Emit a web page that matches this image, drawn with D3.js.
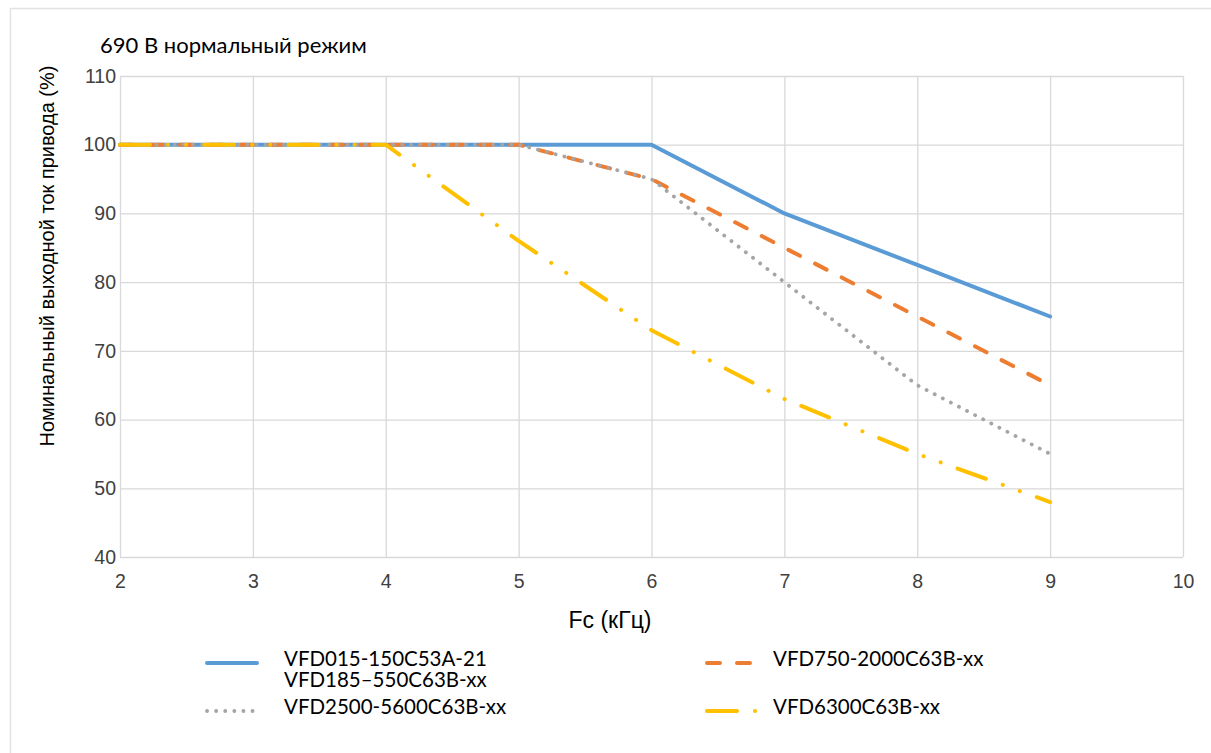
<!DOCTYPE html>
<html>
<head>
<meta charset="utf-8">
<script src="https://cdn.jsdelivr.net/npm/d3@7"></script>
<style>
  html, body { margin: 0; padding: 0; background: #fff; }
  svg { display: block; }
</style>
</head>
<body>
<svg id="chart" width="1211" height="753"></svg>
<script>
// Switching frequency, kHz
const freqs = [2, 3, 4, 5, 6, 7, 8, 9];
// Rated output current of the drive, % — one array per model group
const seriesA = [100, 100, 100, 100, 100, 90, 82.5, 75];
const seriesB = [100, 100, 100, 100, 95, 85, 75, 65];
const seriesC = [100, 100, 100, 100, 95, 80, 65, 55];
const seriesD = [100, 100, 100, 86, 73, 63, 55, 48];

const seriesNames = [
  ["VFD015-150C53A-21", "VFD185\u2013550C63B-xx"],
  ["VFD750-2000C63B-xx"],
  ["VFD2500-5600C63B-xx"],
  ["VFD6300C63B-xx"]
];

const xTicks = [2, 3, 4, 5, 6, 7, 8, 9, 10];
const yTicks = [40, 50, 60, 70, 80, 90, 100, 110];

const titleText = "690 В нормальный режим";
const xTitle = "Fc (кГц)";
const yTitle = "Номинальный выходной ток привода (%)";

const svg = d3.select("#chart");

const plot = { left: 120, right: 1183, top: 76, bottom: 557 };
const x = d3.scaleLinear().domain([2, 10]).range([plot.left, plot.right]);
const y = d3.scaleLinear().domain([40, 110]).range([plot.bottom, plot.top]);

const gridColor = "#d9d9d9";
const axisFont = "'Liberation Sans', Arial, sans-serif";
const labelFont = "Lato, 'Open Sans', sans-serif";

// chart area frame
svg.append("path")
  .attr("d", "M10.5,753 V8.5 H1211")
  .attr("fill", "none")
  .attr("stroke", "#e2e2e2")
  .attr("stroke-width", 1.5);

// gridlines
svg.append("g")
  .attr("transform", `translate(0,${plot.bottom})`)
  .call(d3.axisBottom(x).tickValues(xTicks).tickSize(-(plot.bottom - plot.top)).tickFormat(""))
  .call(g => g.select(".domain").remove())
  .call(g => g.selectAll("line").attr("stroke", gridColor).attr("stroke-width", 1.3));

svg.append("g")
  .attr("transform", `translate(${plot.left},0)`)
  .call(d3.axisLeft(y).tickValues(yTicks).tickSize(-(plot.right - plot.left)).tickFormat(""))
  .call(g => g.select(".domain").remove())
  .call(g => g.selectAll("line").attr("stroke", gridColor).attr("stroke-width", 1.3));

// tick labels
svg.append("g")
  .attr("transform", `translate(0,${plot.bottom})`)
  .call(d3.axisBottom(x).tickValues(xTicks).tickSize(0).tickPadding(17).tickFormat(d3.format("d")))
  .call(g => g.select(".domain").remove())
  .call(g => g.selectAll("text")
    .attr("font-family", axisFont).attr("font-size", 19.5).attr("fill", "#404040"));

svg.append("g")
  .attr("transform", `translate(${plot.left},0)`)
  .call(d3.axisLeft(y).tickValues(yTicks).tickSize(0).tickPadding(4).tickFormat(d3.format("d")))
  .call(g => g.select(".domain").remove())
  .call(g => g.selectAll("text")
    .attr("font-family", axisFont).attr("font-size", 19.5).attr("fill", "#404040"));

// axis titles
svg.append("text")
  .attr("x", 610)
  .attr("y", 628)
  .attr("text-anchor", "middle")
  .attr("font-family", axisFont)
  .attr("font-size", 23)
  .attr("fill", "#000")
  .text(xTitle);

svg.append("text")
  .attr("transform", "translate(54,256) rotate(-90)")
  .attr("text-anchor", "middle")
  .attr("font-family", axisFont)
  .attr("font-size", 20)
  .attr("fill", "#000")
  .text(yTitle);

// chart title
svg.append("text")
  .attr("x", 100)
  .attr("y", 53)
  .attr("font-family", labelFont)
  .attr("font-size", 22)
  .attr("fill", "#000")
  .text(titleText);

// series styles
const styles = [
  { color: "#5b9bd5", width: 4, dash: null },
  { color: "#ed7d31", width: 4, dash: "13,17" },
  { color: "#a5a5a5", width: 3.8, dash: "0.1,9" },
  { color: "#ffc000", width: 4, dash: "30,18,0.1,18,0.1,18" }
];
const allSeries = [seriesA, seriesB, seriesC, seriesD];

const line = d3.line()
  .x((d, i) => x(freqs[i]))
  .y(d => y(d));

const lines = svg.append("g");
allSeries.forEach((vals, k) => {
  const s = styles[k];
  lines.append("path")
    .datum(vals)
    .attr("d", line)
    .attr("fill", "none")
    .attr("stroke", s.color)
    .attr("stroke-width", s.width)
    .attr("stroke-linecap", "round")
    .attr("stroke-linejoin", "round")
    .attr("stroke-dasharray", s.dash);
});

// legend
const legendItems = [
  { k: 0, x: 207, y: 663, tx: 284 },
  { k: 1, x: 707, y: 663, tx: 773 },
  { k: 2, x: 207, y: 711, tx: 284 },
  { k: 3, x: 707, y: 711, tx: 773 }
];
const legend = svg.append("g");
legendItems.forEach(it => {
  const s = styles[it.k];
  legend.append("line")
    .attr("x1", it.x).attr("x2", it.x + 50)
    .attr("y1", it.y).attr("y2", it.y)
    .attr("stroke", s.color)
    .attr("stroke-width", s.width)
    .attr("stroke-linecap", "round")
    .attr("stroke-dasharray", s.dash);
  const t = legend.append("text")
    .attr("x", it.tx)
    .attr("y", it.y + 3)
    .attr("font-family", labelFont)
    .attr("font-size", 20.5)
    .attr("fill", "#000");
  seriesNames[it.k].forEach((nm, j) => {
    t.append("tspan").attr("x", it.tx).attr("dy", j === 0 ? 0 : 20.5).text(nm);
  });
});
</script>
</body>
</html>
